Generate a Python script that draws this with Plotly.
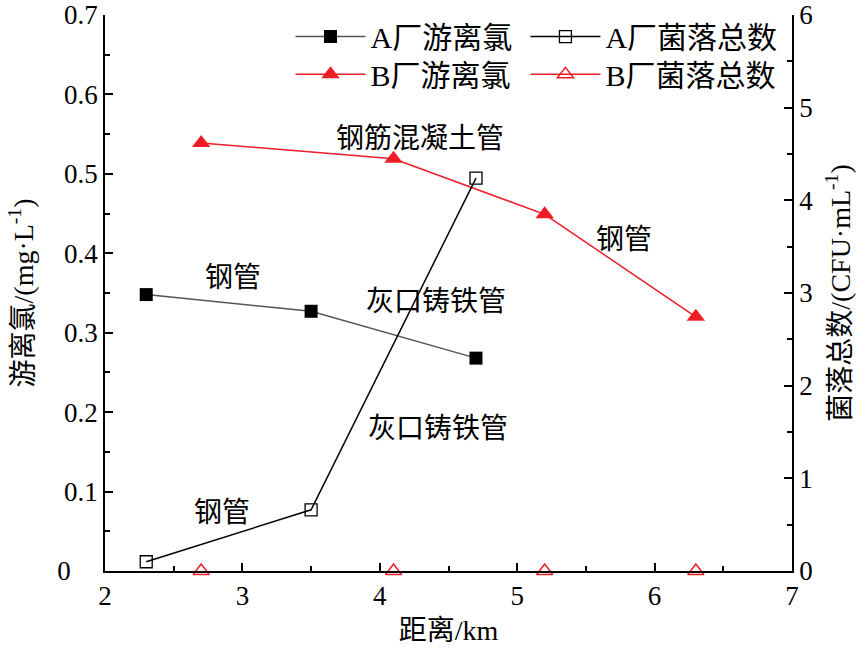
import plotly.graph_objects as go

# Data
a_x = [2.3, 3.5, 4.7]
a_chlorine = [0.348, 0.327, 0.268]
a_colony = [0.1, 0.66, 4.24]
b_x = [2.7, 4.1, 5.2, 6.3]
b_chlorine = [0.539, 0.519, 0.449, 0.320]
b_colony = [0, 0, 0, 0]

left_ticks = [0, 0.1, 0.2, 0.3, 0.4, 0.5, 0.6, 0.7]
left_ticktext = ["0\u2007\u2007", "0.1", "0.2", "0.3", "0.4", "0.5", "0.6", "0.7"]

ann_text = ["钢筋混凝土管", "钢管", "钢管", "灰口铸铁管", "灰口铸铁管", "钢管"]
ann_x = [4.29, 5.78, 2.93, 4.41, 4.42, 2.85]
ann_y = [0.545, 0.417, 0.369, 0.339, 0.180, 0.074]

FONT = "Liberation Serif, Times New Roman, Noto Sans CJK SC, serif"
RED = "#ee1c25"
TXT = 28
LEG = 30
TICK = 27

fig = go.Figure()
fig.add_trace(go.Scatter(x=a_x, y=a_chlorine, name="A厂游离氯", mode="lines+markers",
                         line=dict(color="#555555", width=1.5),
                         marker=dict(symbol="square", size=13, color="black"),
                         cliponaxis=False, legend="legend"))
fig.add_trace(go.Scatter(x=a_x, y=a_colony, name="A厂菌落总数", mode="lines+markers", yaxis="y2",
                         line=dict(color="black", width=1.5),
                         marker=dict(symbol="square-open", size=12, color="black", line=dict(width=1.3)),
                         cliponaxis=False, legend="legend2"))
fig.add_trace(go.Scatter(x=b_x, y=b_chlorine, name="B厂游离氯", mode="lines+markers",
                         line=dict(color=RED, width=1.5),
                         marker=dict(symbol="triangle-up", size=16, color=RED),
                         cliponaxis=False, legend="legend3"))
fig.add_trace(go.Scatter(x=b_x, y=b_colony, name="B厂菌落总数", mode="markers", yaxis="y2",
                         marker=dict(symbol="triangle-up-open", size=14, color=RED, line=dict(width=1.5)),
                         cliponaxis=False, showlegend=False))
# legend entry for B colony (line + open triangle, as in the reference legend)
fig.add_trace(go.Scatter(x=[None], y=[None], name="B厂菌落总数", mode="lines+markers", yaxis="y2",
                         line=dict(color=RED, width=1.5),
                         marker=dict(symbol="triangle-up-open", size=14, color=RED, line=dict(width=1.5)),
                         legend="legend4"))

for t, x, y in zip(ann_text, ann_x, ann_y):
    fig.add_annotation(x=x, y=y, text=t, showarrow=False, xref="x", yref="y",
                       font=dict(family=FONT, size=TXT, color="black"))

axis_common = dict(showline=True, linecolor="black", linewidth=1.5, ticks="inside",
                   tickcolor="black", tickwidth=1.5, ticklen=8, showgrid=False, zeroline=False,
                   tickfont=dict(family=FONT, size=TICK, color="black"),
                   mirror=False, automargin=False)

leg_common = dict(orientation="h", xanchor="left", yanchor="top",
                  bgcolor="rgba(0,0,0,0)",
                  font=dict(family=FONT, size=LEG, color="black"), itemwidth=70)

fig.update_layout(
    width=865, height=649,
    margin=dict(l=105, r=73, t=15, b=78, autoexpand=False),
    plot_bgcolor="white", paper_bgcolor="white",
    font=dict(family=FONT, size=TXT, color="black"),
    xaxis=dict(range=[2, 7], dtick=1, tick0=2,
               minor=dict(ticks="inside", dtick=0.5, ticklen=5, tickcolor="black", tickwidth=1.5),
               title=dict(text="距离/km", font=dict(family=FONT, size=TXT), standoff=10),
               **axis_common),
    yaxis=dict(range=[0, 0.7],
               tickvals=left_ticks,
               ticktext=left_ticktext,
               minor=dict(ticks="inside", dtick=0.05, ticklen=5, tickcolor="black", tickwidth=1.5),
               title=dict(text="游离氯/(mg·L<sup>-1</sup>)", font=dict(family=FONT, size=TXT), standoff=16),
               **axis_common),
    yaxis2=dict(range=[0, 6], dtick=1, tick0=0, overlaying="y", side="right",
                minor=dict(ticks="inside", dtick=0.5, ticklen=5, tickcolor="black", tickwidth=1.5),
                title=dict(text="菌落总数/(CFU·mL<sup>-1</sup>)", font=dict(family=FONT, size=TXT), standoff=18),
                **axis_common),
    legend=dict(x=0.27, y=1.008, **leg_common),
    legend2=dict(x=0.612, y=1.008, **leg_common),
    legend3=dict(x=0.27, y=0.94, **leg_common),
    legend4=dict(x=0.612, y=0.94, **leg_common),
    showlegend=True,
)

fig.write_html("out.html")
